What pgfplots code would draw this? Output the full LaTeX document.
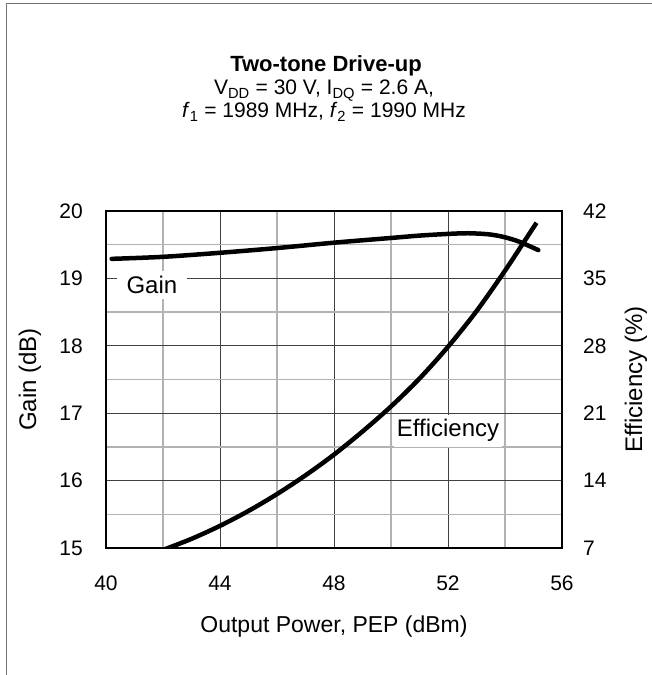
\documentclass[border=0pt]{standalone}
\usepackage{fontspec}
\setmainfont{Liberation Sans}
\usepackage{pgfplots}
\pgfplotsset{compat=1.18}
\begin{document}
\begin{tikzpicture}[x=1pt,y=1pt]
\path[use as bounding box] (0,0) rectangle (652,675);
\draw[line width=1pt, black!55] (6,0) -- (6,671) -- (652,671);
\begin{axis}[
  at={(106pt,127pt)}, anchor=south west,
  scale only axis, width=456pt, height=337pt,
  xmin=40, xmax=56, ymin=15, ymax=20,
  xtick={40,44,48,52,56}, ytick={15,16,...,20},
  minor xtick={42,46,50,54}, minor ytick={15.5,16.5,...,19.5},
  grid=both,
  major grid style={black!75, line width=0.9pt},
  minor grid style={black!30, line width=1.4pt},
  axis line style={black, line width=2.2pt},
  major tick length=0pt, minor tick length=0pt,
  /pgf/number format/assume math mode=true,
  ticklabel style={font=\fontsize{21}{25}\selectfont},
  xticklabel style={anchor=center, yshift=-35pt},
  yticklabel style={anchor=east, inner sep=0pt, xshift=-23pt},
  every axis x label/.style={at={(axis description cs:0.5,-0.2344)}, anchor=center, font=\fontsize{23}{27}\selectfont},
  every axis y label/.style={at={(axis description cs:-0.1667,0.5)}, rotate=90, anchor=center, font=\fontsize{24}{28}\selectfont},
  xlabel={Output Power, PEP (dBm)},
  ylabel={Gain (dB)},
  clip mode=individual,
]
\addplot[black, line width=4.5pt, line cap=round, smooth, tension=0.5] coordinates {
  (40.2,19.29) (42,19.32) (44,19.38) (46,19.45) (48,19.53) (50,19.60)
  (51,19.635) (52,19.66) (52.7,19.67) (53.4,19.655) (53.9,19.62)
  (54.4,19.56) (54.8,19.49) (55.17,19.42)
};
\node[fill=white, inner xsep=10pt, inner ysep=5pt, font=\fontsize{24}{28}\selectfont] at (axis cs:41.61,18.90) {Gain};
\node[fill=white, inner xsep=3pt, inner ysep=5pt, font=\fontsize{24}{28}\selectfont] at (axis cs:52.0,16.74) {Efficiency};
\end{axis}
\begin{axis}[
  at={(106pt,127pt)}, anchor=south west,
  scale only axis, width=456pt, height=337pt,
  xmin=40, xmax=56, ymin=7, ymax=42,
  ytick={7,14,...,42},
  axis x line=none,
  axis y line*=right,
  axis line style={black, line width=2.2pt},
  major tick length=0pt,
  /pgf/number format/assume math mode=true,
  ticklabel style={font=\fontsize{21}{25}\selectfont},
  yticklabel style={anchor=west, inner sep=0pt, xshift=21pt},
  every axis y label/.style={at={(axis description cs:1.1623,0.5)}, rotate=90, anchor=center, font=\fontsize{24}{28}\selectfont},
  ylabel={Efficiency (\%)},
]
\addplot[black, line width=4.5pt, line cap=round, smooth, tension=0.5] coordinates {
  (41.8,6.57) (42,6.8) (43,7.95) (44,9.3) (45,10.85) (46,12.6) (47,14.55)
  (48,16.7) (49,19.1) (50,21.7) (51,24.6) (52,27.9) (53,31.6) (54,35.8)
  (55,40.3) (55.1,40.75)
};
\end{axis}
\node[anchor=base, font=\bfseries\fontsize{22}{26}\selectfont] at (326,603) {Two-tone Drive-up};
\node[anchor=base, font=\fontsize{21}{25}\selectfont] at (324,580) {V\textsubscript{DD} = 30 V, I\textsubscript{DQ} = 2.6 A,};
\node[anchor=base, font=\fontsize{21}{25}\selectfont] at (324,557) {\textit{f}\textsubscript{1} = 1989 MHz, \textit{f}\textsubscript{2} = 1990 MHz};
\end{tikzpicture}
\end{document}
